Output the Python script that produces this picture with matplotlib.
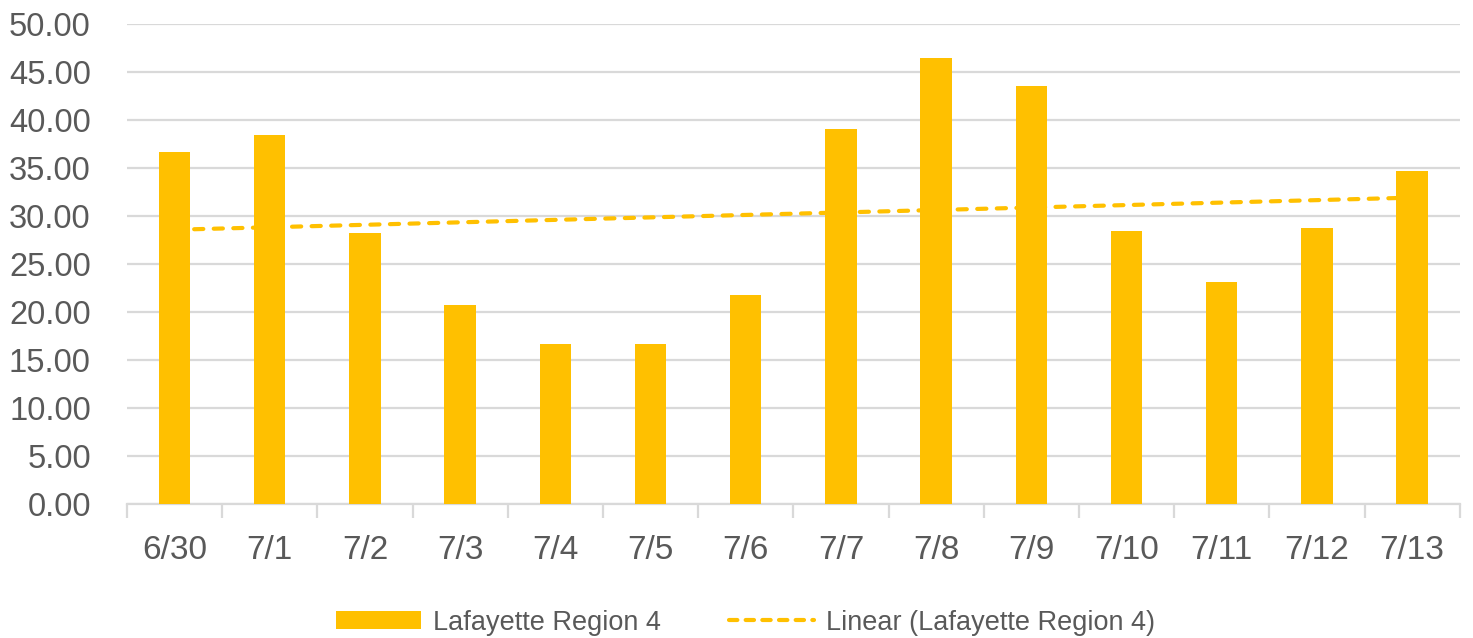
import numpy as np
import matplotlib.pyplot as plt
from matplotlib.patches import Patch
from matplotlib.lines import Line2D

plt.rcParams['font.family'] = ['Liberation Sans', 'DejaVu Sans']

days = ["6/30", "7/1", "7/2", "7/3", "7/4", "7/5", "7/6",
        "7/7", "7/8", "7/9", "7/10", "7/11", "7/12", "7/13"]
values = [36.67, 38.5, 28.26, 20.7, 16.7, 16.7, 21.8,
          39.06, 46.5, 43.6, 28.5, 23.1, 28.8, 34.7]
series_name = "Lafayette Region 4"

bar_col = "#FFC000"
txt_col = "#595959"
grid_col = "#D9D9D9"

fig = plt.figure(figsize=(14.73, 6.38), dpi=100)
ax = fig.add_axes([0.0862, 0.21, 0.9048, 0.752])

x = np.arange(len(days))
ax.bar(x, values, width=0.33, color=bar_col, zorder=3)

# linear trend fitted over the series
k, b = np.polyfit(x, values, 1)
ax.plot(x, k * x + b, color=bar_col, lw=3.0, linestyle=(0, (2.2, 2.5)),
        dash_capstyle='round', zorder=4)

ax.set_xlim(-0.5, len(days) - 0.5)
ax.set_ylim(0, 50)
ax.set_yticks(np.arange(0, 51, 5))
ax.set_yticklabels([f"{v:.2f}" for v in np.arange(0, 51, 5)])
ax.yaxis.grid(True, color=grid_col, lw=1.6, zorder=0)
ax.tick_params(axis='y', length=0, pad=26, labelsize=23.5, labelcolor=txt_col)

# category labels between boundary tick marks
ax.set_xticks(x)
ax.set_xticklabels(days)
ax.tick_params(axis='x', which='major', length=0, pad=22, labelsize=24, labelcolor=txt_col)
ax.set_xticks(np.arange(-0.5, len(days)), minor=True)
ax.tick_params(axis='x', which='minor', length=10, width=1.6, color=grid_col)

for s in ['top', 'right', 'left']:
    ax.spines[s].set_visible(False)
ax.spines['bottom'].set_color(grid_col)
ax.spines['bottom'].set_linewidth(1.6)

handles = [Patch(facecolor=bar_col, edgecolor='none'),
           Line2D([0], [0], color=bar_col, lw=3.0, linestyle=(0, (2.0, 2.0)),
                  dash_capstyle='round')]
fig.legend(handles, [series_name, f"Linear ({series_name})"],
           loc='center', bbox_to_anchor=(0.506, 0.024), ncol=2, frameon=False,
           fontsize=19.5, labelcolor=txt_col, handlelength=3.15, handleheight=0.63,
           handletextpad=0.45, columnspacing=2.5)

fig.savefig("out.png", dpi=100)
